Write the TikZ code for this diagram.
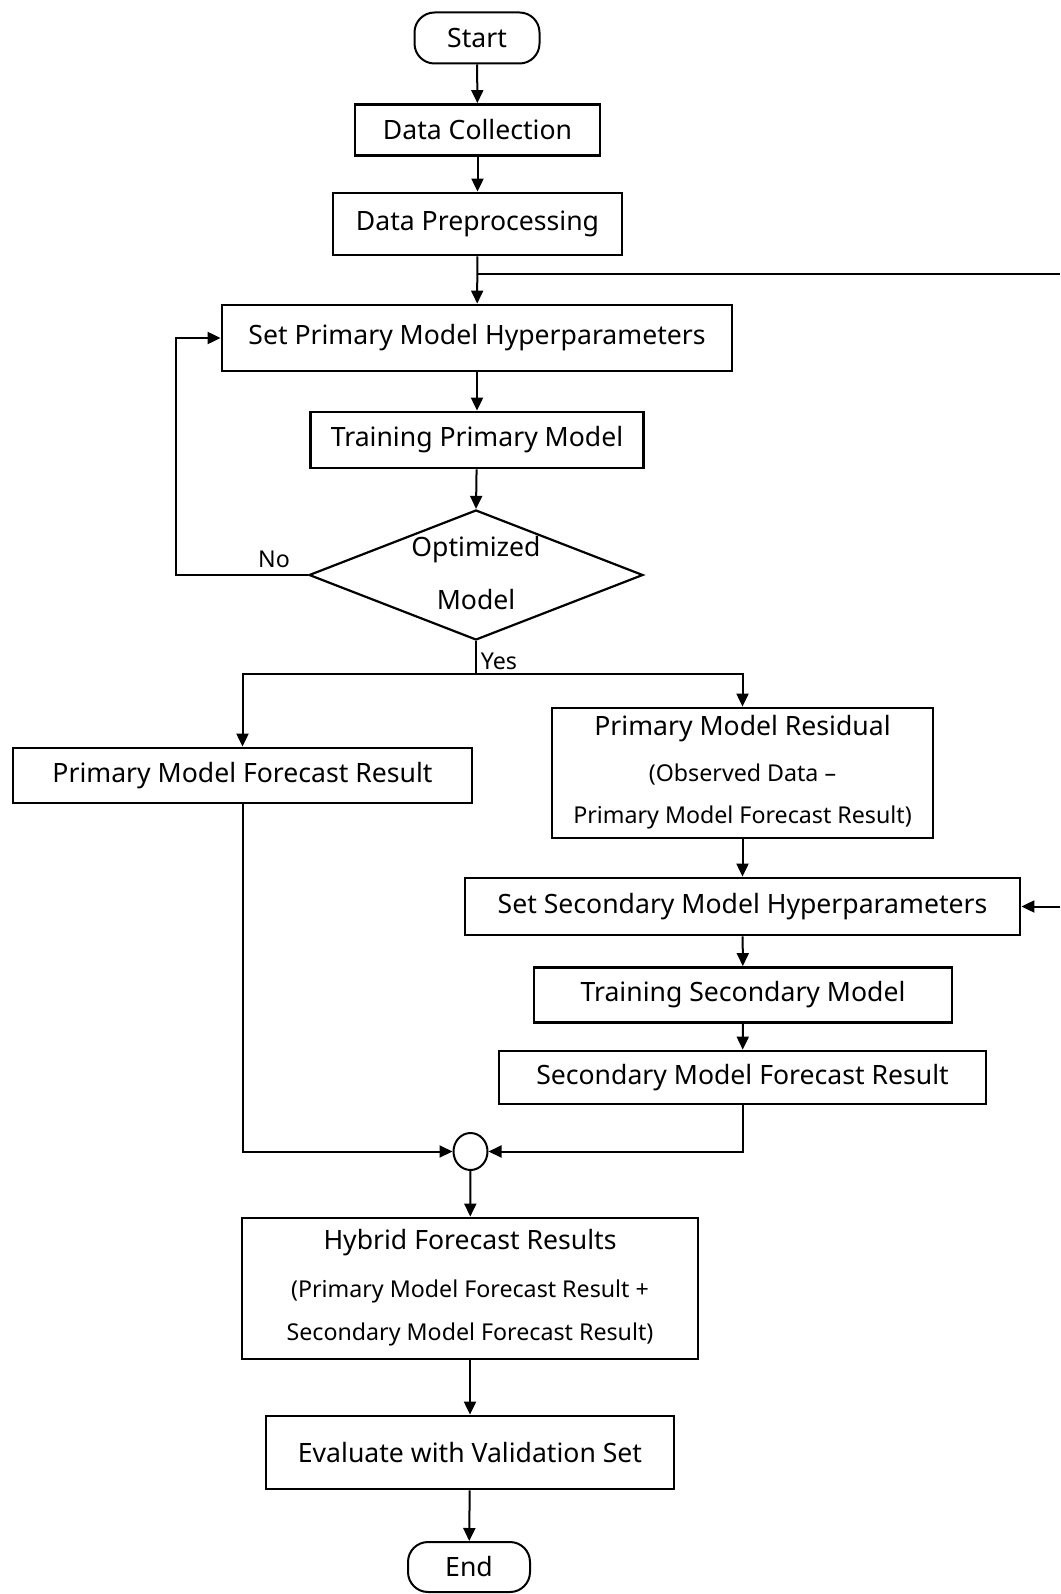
\documentclass[tikz,border=0pt]{standalone}
\usepackage{fontspec}
\setmainfont{Noto Sans}
\usetikzlibrary{arrows.meta,shapes.geometric}
\newcommand{\bigf}{\fontsize{26.6}{31}\selectfont}
\newcommand{\smallf}{\fontsize{23.2}{27}\selectfont}
\tikzset{
  box/.style={draw, line width=2.8pt, rectangle, inner sep=0pt, font=\bigf},
  term/.style={draw, line width=2pt, rectangle, rounded corners=20pt, inner sep=0pt, font=\bigf},
  decision/.style={draw, line width=2.2pt, diamond, inner sep=0pt},
  lbl/.style={inner sep=0pt, font=\bigf},
  slbl/.style={inner sep=0pt, font=\smallf},
  arr/.style={line width=2pt, -{Triangle[length=13pt,width=12pt]}},
  ln/.style={line width=2pt},
}
\begin{document}
\begin{tikzpicture}[x=1pt,y=-1pt]
\useasboundingbox (0,0) rectangle (1060,1594);
\node[term, minimum width=125pt, minimum height=51pt] (start) at (477,38) {Start};
\node[box, minimum width=245pt, minimum height=51pt] (dc) at (477.5,130) {Data Collection};
\node[box, minimum width=289pt, minimum height=62pt] (dp) at (477.5,224) {Data Preprocessing};
\node[box, minimum width=510pt, minimum height=66pt] (sp) at (477,338) {Set Primary Model Hyperparameters};
\node[box, minimum width=333pt, minimum height=56pt] (tp) at (477,440) {Training Primary Model};
\node[decision, minimum width=334pt, minimum height=130pt] (opt) at (476,575) {};
\node[lbl] (optt1) at (476,550) {Optimized};
\node[lbl] (optt2) at (476,600) {Model};
\node[box, minimum width=459pt, minimum height=55pt] (pmf) at (242.5,775.5) {Primary Model Forecast Result};
\node[box, minimum width=381pt, minimum height=130pt] (res) at (742.5,773) {};
\node[lbl] (res1) at (742.5,729) {Primary Model Residual};
\node[slbl] (res2) at (742.5,775) {(Observed Data –};
\node[slbl] (res3) at (742.5,817) {Primary Model Forecast Result)};
\node[box, minimum width=555pt, minimum height=57pt] (ss) at (742.5,906.5) {Set Secondary Model Hyperparameters};
\node[box, minimum width=418pt, minimum height=55pt] (ts) at (743,995) {Training Secondary Model};
\node[box, minimum width=487pt, minimum height=53pt] (sf) at (742.5,1077.5) {Secondary Model Forecast Result};
\node[draw, line width=2pt, ellipse, minimum width=34pt, minimum height=37pt, inner sep=0pt] (sum) at (470.5,1151.5) {};
\node[box, minimum width=456pt, minimum height=141pt] (hyb) at (470,1288.5) {};
\node[lbl] (hyb1) at (470,1243) {Hybrid Forecast Results};
\node[slbl] (hyb2) at (470,1291) {(Primary Model Forecast Result +};
\node[slbl] (hyb3) at (470,1334) {Secondary Model Forecast Result)};
\node[box, minimum width=408pt, minimum height=73pt] (ev) at (470,1452.5) {Evaluate with Validation Set};
\node[term, minimum width=122pt, minimum height=50pt] (end) at (469,1567) {End};

\coordinate (br) at (477,274.5);
\coordinate (re1) at (1060,274.5);
\coordinate (re2) at (1060,906.5);
\coordinate (loopx) at (176,575);
\coordinate (ysplit) at (476,674);

\draw[arr] (start) -- (dc);
\draw[arr] (dc) -- (dp);
\draw[arr] (dp) -- (sp);
\draw[ln] (br) -- (re1);
\draw[arr] (sp) -- (tp);
\draw[arr] (tp) -- (opt.north);
\draw[arr] (opt.west) -- (loopx) |- (sp.west);
\node[lbl, font=\smallf] (no) at (274,559) {No};
\draw[ln] (opt.south) -- (ysplit);
\draw[arr] (ysplit) -| (pmf.north);
\draw[arr] (ysplit) -| (res.north);
\node[lbl, font=\smallf] (yes) at (499,661) {Yes};
\draw[arr] (res) -- (ss);
\draw[arr] (re2) -- (ss.east);
\draw[arr] (ss) -- (ts);
\draw[arr] (ts) -- (sf);
\draw[arr] (pmf.south) |- (sum.west);
\draw[arr] (sf.south) |- (sum.east);
\draw[arr] (sum) -- (hyb);
\draw[arr] (hyb) -- (ev);
\draw[arr] (ev) -- (end);
\end{tikzpicture}
\end{document}
